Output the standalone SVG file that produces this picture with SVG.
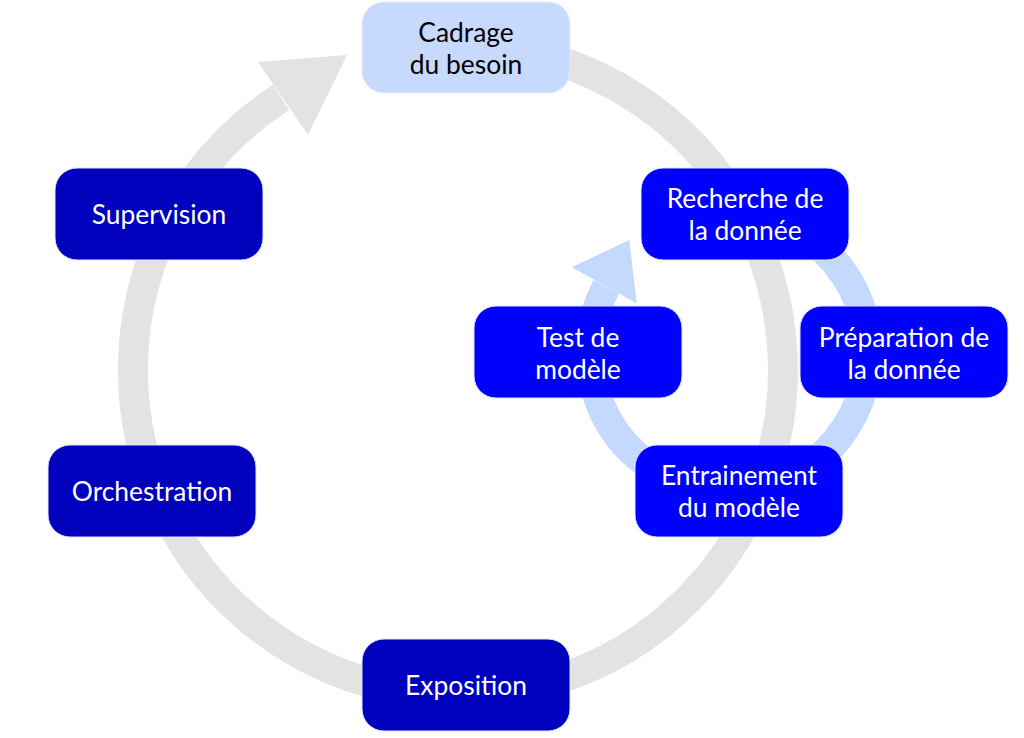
<svg xmlns="http://www.w3.org/2000/svg" width="1024" height="738" viewBox="0 0 1024 738">
<style>
.t{font-family:"Lato","Liberation Sans",sans-serif;font-size:26.4px;text-anchor:middle;dominant-baseline:central}
.w{fill:#ffffff}
.k{fill:#000000}
.dark{fill:#0000bd;stroke:#dde3ff;stroke-width:1}
.bright{fill:#0000fe;stroke:#dde3ff;stroke-width:1}
.light{fill:#c7d9fd;stroke:#e4ecff;stroke-width:1}
</style>
<rect width="1024" height="738" fill="#ffffff"/>
<g id="connectors">
  <path d="M459,45 A325,325 0 1 1 281,97.4" fill="none" stroke="#e3e3e3" stroke-width="30"/>
  <polygon points="258,62 347,55 308,135" fill="#e3e3e3"/>
  <path d="M729,213 A139,139 0 1 1 606.3,286.7" fill="none" stroke="#c5d8fd" stroke-width="29"/>
  <polygon points="571.7,267.3 629.3,240 636.7,303.3" fill="#c5d8fd"/>
</g>
<g id="cadrage">
  <rect class="light" x="362" y="2" width="208" height="91" rx="22"/>
  <text class="t k" x="466" y="32">Cadrage</text>
  <text class="t k" x="466" y="64">du besoin</text>
</g>
<g id="supervision">
  <rect class="dark" x="55" y="168" width="208" height="92" rx="22"/>
  <text class="t w" x="159" y="214">Supervision</text>
</g>
<g id="orchestration">
  <rect class="dark" x="48" y="445" width="208" height="92" rx="22"/>
  <text class="t w" x="152" y="491">Orchestration</text>
</g>
<g id="exposition">
  <rect class="dark" x="362" y="639" width="208" height="92" rx="22"/>
  <text class="t w" x="466" y="685">Exposition</text>
</g>
<g id="recherche">
  <rect class="bright" x="641" y="168" width="208" height="92" rx="22"/>
  <text class="t w" x="745" y="198">Recherche de</text>
  <text class="t w" x="745" y="230">la donnée</text>
</g>
<g id="preparation">
  <rect class="bright" x="800" y="306" width="208" height="92" rx="22"/>
  <text class="t w" x="904" y="337">Préparation de</text>
  <text class="t w" x="904" y="369">la donnée</text>
</g>
<g id="entrainement">
  <rect class="bright" x="635" y="445" width="208" height="92" rx="22"/>
  <text class="t w" x="739" y="475">Entrainement</text>
  <text class="t w" x="739" y="507">du modèle</text>
</g>
<g id="test">
  <rect class="bright" x="474" y="306" width="208" height="92" rx="22"/>
  <text class="t w" x="578" y="337">Test de</text>
  <text class="t w" x="578" y="369">modèle</text>
</g>
</svg>
